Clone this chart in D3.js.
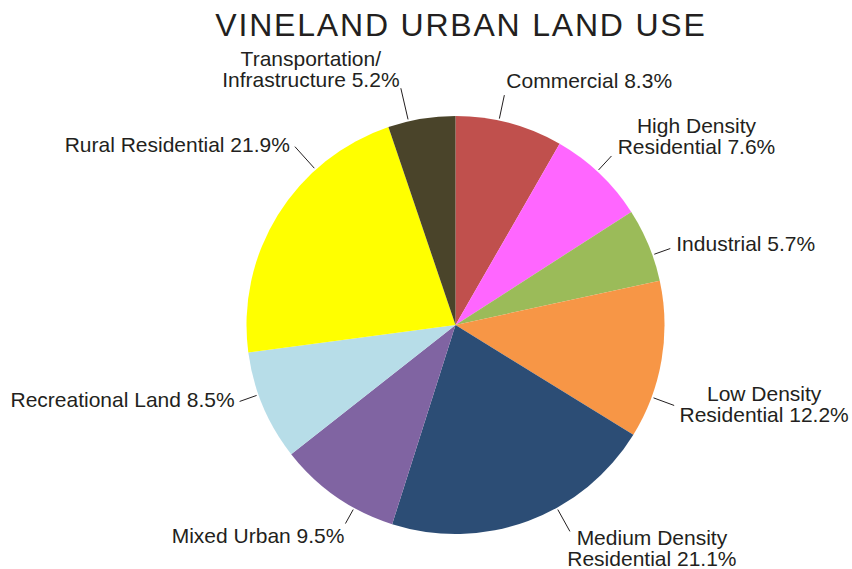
<!DOCTYPE html>
<html>
<head>
<meta charset="utf-8">
<script src="https://cdn.jsdelivr.net/npm/d3@7"></script>
<style>
  html, body { margin: 0; padding: 0; background: #ffffff; }
  svg { display: block; }
  text { font-family: "Liberation Sans", Arial, Helvetica, sans-serif; fill: #231f20; }
</style>
</head>
<body>
<svg id="chart" width="852" height="569"></svg>
<script>
// ---- data ----
const categories = [
  "Commercial", "High Density Residential", "Industrial", "Low Density Residential",
  "Medium Density Residential", "Mixed Urban", "Recreational Land",
  "Rural Residential", "Transportation/ Infrastructure"
];
const values = [8.3, 7.6, 5.7, 12.2, 21.1, 9.5, 8.5, 21.9, 5.2];
// label lines as shown on the chart
const labelLines = [
  ["Commercial 8.3%"],
  ["High Density", "Residential 7.6%"],
  ["Industrial 5.7%"],
  ["Low Density", "Residential 12.2%"],
  ["Medium Density", "Residential 21.1%"],
  ["Mixed Urban 9.5%"],
  ["Recreational Land 8.5%"],
  ["Rural Residential 21.9%"],
  ["Transportation/", "Infrastructure 5.2%"]
];
const colors = ["#c0504d", "#ff66ff", "#9bbb59", "#f79646", "#2c4d75", "#8064a2", "#b7dde8", "#ffff00", "#4a442a"];

// ---- layout (leader angle in degrees clockwise from 12 o'clock, outer radius, text offsets) ----
const layout = [
  { ang: 12,    out: 235, dx: 2,   dy: -7,  anchor: "start" },
  { ang: 42.7,  out: 230, dx: 85,  dy: -23, anchor: "middle" },
  { ang: 70.4,  out: 228, dx: 6,   dy: 2,   anchor: "start" },
  { ang: 110.2, out: 233, dx: 90,  dy: -4,  anchor: "middle" },
  { ang: 151,   out: 236, dx: 82,  dy: 14,  anchor: "middle" },
  { ang: 209,   out: 227, dx: -1,  dy: 19,  anchor: "end" },
  { ang: 250.5, out: 229, dx: -5,  dy: 6,   anchor: "end" },
  { ang: 318,   out: 240, dx: -5,  dy: 5,   anchor: "end" },
  { ang: 347,   out: 243, dx: -90, dy: -22, anchor: "middle" }
];

const W = 852, H = 569;
const cx = 455.5, cy = 325, R = 209;
const svg = d3.select("#chart");

svg.append("text")
  .attr("x", 461).attr("y", 36)
  .attr("text-anchor", "middle")
  .style("font-size", "32px")
  .style("letter-spacing", "1.8px")
  .text("VINELAND URBAN LAND USE");

const data = categories.map((c, i) => ({ name: c, value: values[i], color: colors[i], lines: labelLines[i], lay: layout[i] }));

const pie = d3.pie().value(d => d.value).sort(null);
const arc = d3.arc().innerRadius(0).outerRadius(R);
const arcs = pie(data);

const g = svg.append("g").attr("transform", `translate(${cx},${cy})`);
g.selectAll("path.slice")
  .data(arcs)
  .join("path")
  .attr("class", "slice")
  .attr("d", arc)
  .attr("fill", d => d.data.color);

const rad = a => a * Math.PI / 180;
const pt = (a, r) => [r * Math.sin(rad(a)), -r * Math.cos(rad(a))];

const lab = g.selectAll("g.lab").data(arcs).join("g").attr("class", "lab");
lab.append("line")
  .attr("x1", d => pt(d.data.lay.ang, R + 2)[0])
  .attr("y1", d => pt(d.data.lay.ang, R + 2)[1])
  .attr("x2", d => pt(d.data.lay.ang, d.data.lay.out)[0])
  .attr("y2", d => pt(d.data.lay.ang, d.data.lay.out)[1])
  .attr("stroke", "#231f20")
  .attr("stroke-width", 1);

lab.each(function(d) {
  const o = pt(d.data.lay.ang, d.data.lay.out);
  const t = d3.select(this).append("text")
    .attr("text-anchor", d.data.lay.anchor)
    .style("font-size", "21px");
  d.data.lines.forEach((ln, k) => {
    t.append("tspan")
      .attr("x", o[0] + d.data.lay.dx)
      .attr("y", o[1] + d.data.lay.dy + k * 21)
      .text(ln);
  });
});
</script>
</body>
</html>
